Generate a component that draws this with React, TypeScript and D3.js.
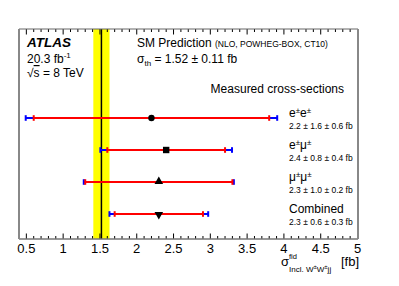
import React from "react";
import * as d3 from "d3";

const categories = ["ee", "em", "mm", "comb"];
const labels = ["e±e±", "e±μ±", "μ±μ±", "Combined"];
const values = [2.2, 2.4, 2.3, 2.3];
const statErr = [1.6, 0.8, 1.0, 0.6];
const systErr = [0.6, 0.4, 0.2, 0.3];
const markerTypes = ["circle", "square", "triangleUp", "triangleDown"];
const xTicks = [0.5, 1, 1.5, 2, 2.5, 3, 3.5, 4, 4.5, 5];
const smPred = 1.52;
const smErr = 0.11;

const W = 399, H = 286;
const L = 19, R = 358, T = 29, B = 239;
const FONT = "'Liberation Sans', Arial, Helvetica, sans-serif";

function supPM(s: string, small: number) {
  const parts: React.ReactNode[] = [];
  let k = 0;
  let raised = false;
  for (const ch of s) {
    if (ch === "±") {
      parts.push(<tspan key={k++} fontSize={small} dy={raised ? 0 : -4}>±</tspan>);
      raised = true;
    } else {
      parts.push(<tspan key={k++} dy={raised ? 4 : 0}>{ch}</tspan>);
      raised = false;
    }
  }
  return parts;
}

export default function App() {
  const x = d3.scaleLinear().domain([0.4, 5]).range([L, 357.5]);
  const y = d3.scalePoint<string>().domain(categories).range([117, 215]).round(true);
  const minor = d3.range(0.4, 5.0001, 0.1).map((v) => Math.round(v * 10) / 10);
  const tri = d3.symbol().type(d3.symbolTriangle).size(32)() as string;
  const capH = 2.8;

  return (
    <svg width={W} height={H} style={{ position: "absolute", left: 0, top: 0, background: "#fff" }} fontFamily={FONT}>
      {/* SM band */}
      <rect x={x(smPred - smErr)} y={T} width={x(smPred + smErr) - x(smPred - smErr)} height={B - T} fill="#ffff00" />
      <line x1={x(smPred)} x2={x(smPred)} y1={T} y2={B} stroke="#000" strokeWidth={1.5} />

      {/* ticks */}
      {minor.map((v, i) => {
        const isMajor = Math.abs(v * 2 - Math.round(v * 2)) < 1e-6;
        const len = isMajor ? 5.5 : 3;
        return (
          <g key={i}>
            <line x1={x(v)} x2={x(v)} y1={B} y2={B - len} stroke="#000" strokeWidth={1} />
            <line x1={x(v)} x2={x(v)} y1={T} y2={T + len} stroke="#000" strokeWidth={1} />
          </g>
        );
      })}

      {/* frame */}
      <line x1={L} x2={R} y1={T} y2={T} stroke="#666" strokeWidth={1} />
      <line x1={L} x2={R} y1={B} y2={B} stroke="#777" strokeWidth={1.3} />
      <line x1={L} x2={L} y1={T} y2={B} stroke="#888" strokeWidth={2} />
      <line x1={R} x2={R} y1={T} y2={B} stroke="#888" strokeWidth={2} />

      {/* tick labels */}
      {xTicks.map((v) => (
        <text key={v} x={x(v)} y={252.5} fontSize={13} textAnchor="middle" fill="#000">
          {String(v)}
        </text>
      ))}

      {/* error bars */}
      {categories.map((c, i) => {
        const yy = y(c) as number;
        const v = values[i];
        const tot = Math.sqrt(statErr[i] ** 2 + systErr[i] ** 2);
        const x0 = x(v - tot), x1 = x(v + tot);
        const s0 = x(v - statErr[i]), s1 = x(v + statErr[i]);
        const mt = markerTypes[i];
        return (
          <g key={c}>
            <line x1={x0} x2={x1} y1={yy} y2={yy} stroke="#0000ff" strokeWidth={2} />
            <line x1={x0} x2={x0} y1={yy - capH} y2={yy + capH} stroke="#0000ff" strokeWidth={2} />
            <line x1={x1} x2={x1} y1={yy - capH} y2={yy + capH} stroke="#0000ff" strokeWidth={2} />
            <line x1={s0} x2={s1} y1={yy} y2={yy} stroke="#ff0000" strokeWidth={2} />
            <line x1={s0} x2={s0} y1={yy - capH} y2={yy + capH} stroke="#ff0000" strokeWidth={2} />
            <line x1={s1} x2={s1} y1={yy - capH} y2={yy + capH} stroke="#ff0000" strokeWidth={2} />
            {mt === "circle" && <circle cx={x(v)} cy={yy} r={3.2} fill="#000" />}
            {mt === "square" && <rect x={x(v) - 3.2} y={yy - 3.2} width={6.4} height={6.4} fill="#000" />}
            {mt === "triangleUp" && <path d={tri} transform={`translate(${x(v)},${yy - 0.5})`} fill="#000" />}
            {mt === "triangleDown" && <path d={tri} transform={`translate(${x(v)},${yy + 0.5}) rotate(180)`} fill="#000" />}
            <text x={289} y={yy - 1} fontSize={12} fill="#000">{supPM(labels[i], 8)}</text>
            <text x={289} y={yy + 11} fontSize={8.5} fill="#000">
              {`${v.toFixed(1)} ± ${statErr[i].toFixed(1)} ± ${systErr[i].toFixed(1)} fb`}
            </text>
          </g>
        );
      })}

      {/* texts */}
      <text x={27} y={46.5} fontSize={13.5} fontWeight="bold" fontStyle="italic" fill="#000">ATLAS</text>
      <text x={27} y={62.5} fontSize={12} fill="#000">
        20.3 fb<tspan dy={-4.5} fontSize={8}>-1</tspan>
      </text>
      <text x={27} y={77} fontSize={12} fill="#000">
        √<tspan textDecoration="overline">s</tspan> = 8 TeV
      </text>
      <text x={137} y={46.5} fontSize={12} fill="#000">
        SM Prediction <tspan fontSize={8.5}>(NLO, POWHEG-BOX, CT10)</tspan>
      </text>
      <text x={137} y={62.5} fontSize={12} fill="#000">
        σ<tspan dy={3} fontSize={8}>th</tspan><tspan dy={-3}> = 1.52 ± 0.11 fb</tspan>
      </text>
      <text x={344} y={93} fontSize={12} textAnchor="end" fill="#000">Measured cross-sections</text>

      {/* axis title */}
      <text x={281} y={266} fontSize={13} fill="#000">σ</text>
      <text x={289} y={258.5} fontSize={7.5} fill="#000">fid</text>
      <text x={289} y={271.5} fontSize={8} fill="#000">Incl. W<tspan fontSize={6} dy={-2.5}>±</tspan><tspan dy={2.5}>W</tspan><tspan fontSize={6} dy={-2.5}>±</tspan><tspan dy={2.5}>jj</tspan></text>
      <text x={359} y={266} fontSize={13} textAnchor="end" fill="#000">[fb]</text>
    </svg>
  );
}
